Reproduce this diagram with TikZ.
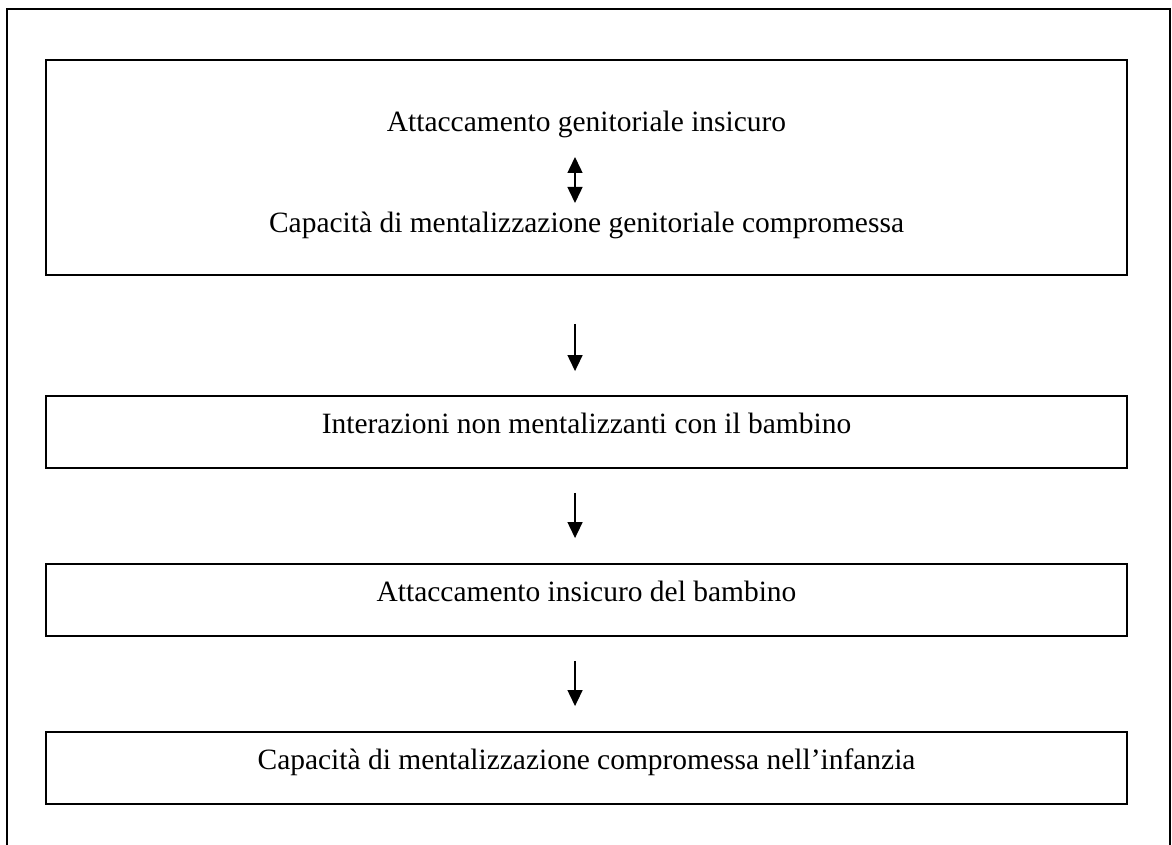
\documentclass[tikz,border=0pt]{standalone}
\usepackage{fontspec}
\setmainfont{Liberation Serif}
\usetikzlibrary{arrows.meta}
\begin{document}
\begin{tikzpicture}[x=0.75pt,y=-0.75pt,
  boxstyle/.style={draw=black,line width=1.4pt,rectangle,minimum width=810.75pt,inner sep=0pt},
  txt/.style={font=\fontsize{22.1}{25}\selectfont,inner sep=0pt,anchor=base},
  arr/.style={line width=1.1pt,-{Triangle[width=11.25pt,length=12pt]}},
  darr/.style={line width=1.1pt,{Triangle[width=11.25pt,length=12pt]}-{Triangle[width=11.25pt,length=12pt]}}]
\clip (0,0) rectangle (1172,845);
\fill[white] (0,0) rectangle (1172,845);
\draw[line width=1.6pt] (7,900) -- (7,9) -- (1170,9) -- (1170,900);
% boxes
\node[boxstyle,minimum height=161.25pt] (b1) at (586.5,167.5) {};
\node[boxstyle,minimum height=54pt] (b2) at (586.5,432) {};
\node[boxstyle,minimum height=54pt] (b3) at (586.5,600) {};
\node[boxstyle,minimum height=54pt] (b4) at (586.5,768) {};
% texts
\node[txt] (t1a) at (586.5,132) {Attaccamento genitoriale insicuro};
\node[txt] (t1b) at (586.5,233) {Capacità di mentalizzazione genitoriale compromessa};
\node[txt] (t2) at (586.5,433) {Interazioni non mentalizzanti con il bambino};
\node[txt] (t3) at (586.5,601) {Attaccamento insicuro del bambino};
\node[txt] (t4) at (586.5,769) {Capacità di mentalizzazione compromessa nell’infanzia};
% arrows
\coordinate (a0s) at (575,157);
\coordinate (a0e) at (575,203);
\draw[darr] (a0s) -- (a0e);
\draw[arr,shorten <=36pt,shorten >=18pt] ([xshift=-8.6pt]b1.south) -- ([xshift=-8.6pt]b2.north);
\draw[arr,shorten <=18pt,shorten >=18.75pt] ([xshift=-8.6pt]b2.south) -- ([xshift=-8.6pt]b3.north);
\draw[arr,shorten <=18pt,shorten >=18.75pt] ([xshift=-8.6pt]b3.south) -- ([xshift=-8.6pt]b4.north);
\end{tikzpicture}
\end{document}
